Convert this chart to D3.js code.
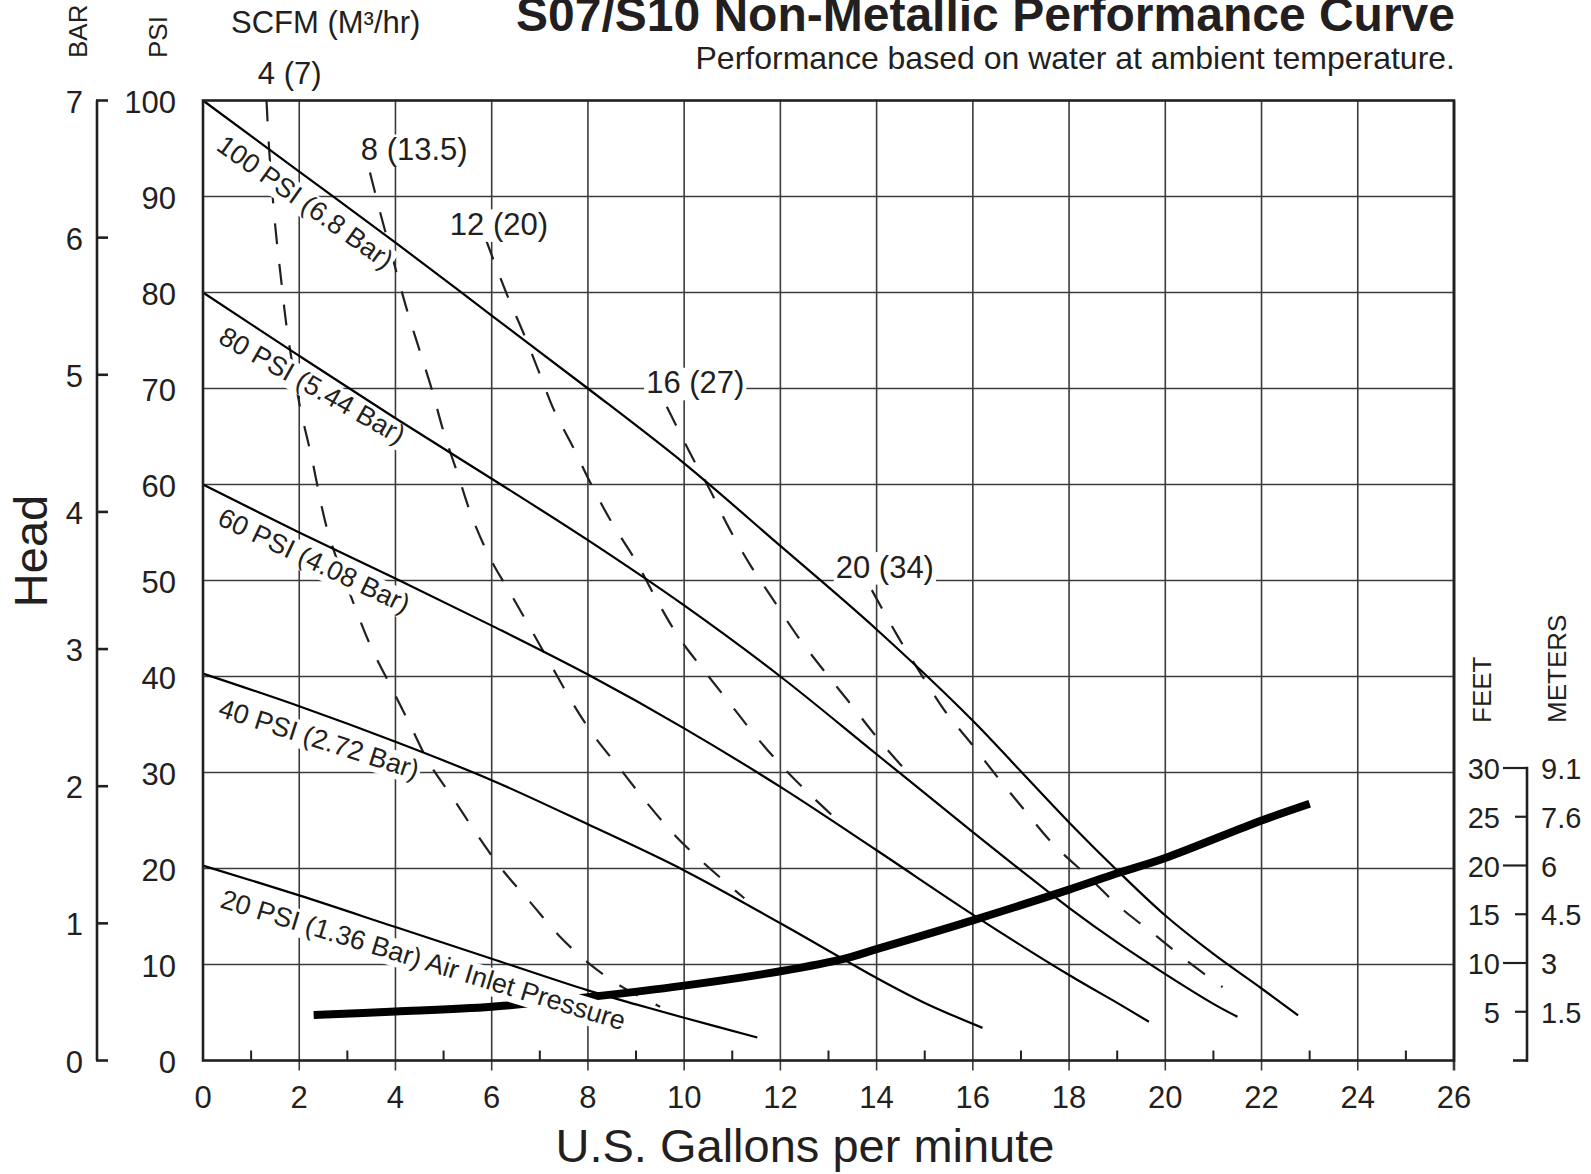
<!DOCTYPE html>
<html><head><meta charset="utf-8">
<script src="https://cdn.jsdelivr.net/npm/d3@7"></script>
<style>
body{margin:0;background:#fff}
svg{display:block}
text{font-family:"Liberation Sans",Arial,Helvetica,sans-serif;fill:#231f20}
</style>
</head><body>
<svg id="chart" width="1591" height="1174"></svg>
<script>
// ---------- data ----------
const gpmTicks = d3.range(0, 27, 2);
const gpmMinor = d3.range(1, 26, 2);
const psiTicks = d3.range(0, 101, 10);
const barTicks = d3.range(0, 8);
const feetTicks = [5, 10, 15, 20, 25, 30];
const meterLabels = ["1.5", "3", "4.5", "6", "7.6", "9.1"];

// air inlet pressure curves [gpm, psi]
const air100 = [[0,100],[2,92.6],[4,85.2],[6,77.6],[8,70],[10,62.2],[12,53.6],[14,44.9],[16,35.4],[17,30.1],[18,24.8],[19,19.8],[20,15.1],[21,11.1],[22,7.5],[22.76,4.7]];
const air80  = [[0,80],[2,73.4],[4,66.9],[6,60.6],[8,54.2],[10,47.4],[12,40],[14,31.9],[16,23.8],[17,19.8],[18,15.9],[19,12.3],[20,9],[21,5.9],[21.5,4.55]];
const air60  = [[0,60],[2,55.0],[4,50.2],[6,45.3],[8,40.2],[10,34.6],[12,28.5],[14,21.9],[16,15.2],[18,8.9],[19,6],[19.66,4.03]];
const air40  = [[0,40.3],[2,36.9],[4,33.2],[6,29.2],[8,24.6],[10,19.8],[12,14.3],[14,8.6],[15,6],[16.2,3.4]];
const air20  = [[0,20.3],[2,17.2],[4,13.9],[6,10.6],[8,7.3],[9,5.85],[10,4.45],[11.52,2.4]];
const airLabels = ["100 PSI (6.8 Bar)", "80 PSI (5.44 Bar)", "60 PSI (4.08 Bar)", "40 PSI (2.72 Bar)", "20 PSI (1.36 Bar) Air Inlet Pressure"];

// air consumption curves (SCFM) [gpm, psi]
const scfm4  = [[1.32,100],[1.38,94.5],[1.5,87],[1.62,81.5],[1.75,76],[2.0,68.5],[2.25,63],[2.6,55],[3.1,48],[3.5,43],[3.9,39],[4.3,35],[4.7,31],[5.2,27.3],[5.7,23.5],[6.2,20],[6.8,16.5],[7.4,13],[8.0,10.2],[8.7,7.7],[9.5,5.6]];
const scfm8  = [[3.47,92.5],[3.7,88],[4.0,82.5],[4.25,78],[4.5,74],[4.75,70],[5.0,65.5],[5.3,61],[5.6,56.5],[6.0,52],[6.35,49],[6.75,45.5],[7.2,41.5],[7.65,37.5],[8.1,34],[8.65,30.5],[9.2,27],[9.8,23.5],[10.4,20.6],[11.25,16.9]];
const scfm12 = [[5.88,85.5],[6.3,80],[6.7,75.3],[7.0,71.5],[7.3,67.7],[7.7,63.8],[8.1,59.7],[8.5,56],[9.0,52],[9.45,47.8],[9.9,44],[10.4,40.7],[10.95,37.2],[11.5,33.7],[12.1,30.3],[12.7,27.3],[13.3,24.5]];
const scfm16 = [[9.64,68.1],[10.12,63.3],[10.54,59.4],[10.95,55.3],[11.4,51.4],[11.85,48.0],[12.37,44.1],[12.89,40.7],[13.45,37.2],[14.0,33.7],[14.59,30.3],[14.8,29.2]];
const scfm20 = [[13.9,49],[14.45,44.1],[14.93,40.2],[15.45,36.2],[15.97,33.0],[16.5,29.6],[17.07,26.1],[17.66,22.6],[18.43,19.0],[19.05,16.0],[19.78,13.1],[20.47,10.3],[21.19,7.65]];
const scfmLabels = ["4 (7)", "8 (13.5)", "12 (20)", "16 (27)", "20 (34)"];

// system (head) curve
const systemCurve = [[2.3,4.75],[4,5.1],[6,5.6],[8,6.6],[10,7.8],[12,9.3],[13.4,10.7],[14,11.6],[16,14.6],[18,17.8],[19,19.5],[20,21.1],[22,25],[23,26.75]];

// ---------- layout (annotation anchors in chart units, angle in degrees) ----------
const airLabelPos = [[0.25,94.95,35.5],[0.29,74.84,29.5],[0.27,55.88,25.5],[0.29,35.88,17.7],[0.33,15.99,17]];
const scfmLabelPos = [[1.14,101.7],[3.28,93.8],[5.13,86.0],[9.21,69.5],[13.15,50.3]];

// ---------- drawing ----------
const svg = d3.select("#chart");
const ink = "#231f20";
const x = d3.scaleLinear().domain([0, 26]).range([203, 1454]);
const y = d3.scaleLinear().domain([0, 100]).range([1060.5, 100.5]);
const yBar = d3.scaleLinear().domain([0, 7]).range([1060.5, 100.5]);
const yFeet = d3.scaleLinear().domain([0, 30]).range([1060.5, 768]);

const gGrid = svg.append("g");
const gDash = svg.append("g");
const gThick = svg.append("g");
const gBg = svg.append("g");
const gSolid = svg.append("g");
const gText = svg.append("g");
const gAxes = svg.append("g");

// grid
gGrid.selectAll(".vg").data(gpmTicks.filter(d => d > 0)).join("line")
  .attr("x1", d => x(d)).attr("x2", d => x(d))
  .attr("y1", y(100)).attr("y2", y(0) + 10)
  .attr("stroke", "#3c3c3c").attr("stroke-width", d => d === 26 ? 2.6 : 1.6);
gGrid.selectAll(".hg").data(psiTicks.filter(d => d > 0 && d < 100)).join("line")
  .attr("x1", x(0)).attr("x2", x(26))
  .attr("y1", d => y(d)).attr("y2", d => y(d))
  .attr("stroke", "#3c3c3c").attr("stroke-width", 1.6);
gGrid.selectAll(".mt").data(gpmMinor).join("line")
  .attr("x1", d => x(d)).attr("x2", d => x(d))
  .attr("y1", y(0) - 10).attr("y2", y(0))
  .attr("stroke", ink).attr("stroke-width", 2);

const line = d3.line().x(d => x(d[0])).y(d => y(d[1])).curve(d3.curveCatmullRom.alpha(0.5));

// SCFM dashed curves
gDash.selectAll("path").data([scfm4, scfm8, scfm12, scfm16, scfm20]).join("path")
  .attr("d", line).attr("fill", "none").attr("stroke", ink)
  .attr("stroke-width", 2.2).attr("stroke-dasharray", "21,20");

// system curve
gThick.append("path").datum(systemCurve).attr("d", line)
  .attr("fill", "none").attr("stroke", "#000").attr("stroke-width", 8);

// air pressure solid curves
gSolid.selectAll("path").data([air100, air80, air60, air40, air20]).join("path")
  .attr("d", line).attr("fill", "none").attr("stroke", "#000")
  .attr("stroke-width", 2.2);

// labels with white background boxes
function addLabel(transform, str, fs) {
  const t = gText.append("text").attr("transform", transform).attr("font-size", fs).text(str);
  const b = t.node().getBBox();
  gBg.append("rect").attr("transform", transform)
    .attr("x", b.x - 2).attr("y", b.y + fs * 0.08).attr("width", b.width + 4).attr("height", b.height - fs * 0.08)
    .attr("fill", "#fff");
}
airLabels.forEach((s, i) => {
  const p = airLabelPos[i];
  addLabel(`translate(${x(p[0])},${y(p[1])}) rotate(${p[2]})`, s, 27);
});
scfmLabels.forEach((s, i) => {
  const p = scfmLabelPos[i];
  addLabel(`translate(${x(p[0])},${y(p[1])})`, s, 31);
});

// frame
gAxes.append("rect").attr("x", x(0)).attr("y", y(100))
  .attr("width", x(26) - x(0)).attr("height", y(0) - y(100))
  .attr("fill", "none").attr("stroke", ink).attr("stroke-width", 2.6);

// x tick labels
gAxes.append("g").selectAll("text").data(gpmTicks).join("text")
  .attr("x", d => x(d)).attr("y", 1108).attr("text-anchor", "middle")
  .attr("font-size", 31).text(d => d);

// psi tick labels
gAxes.append("g").selectAll("text").data(psiTicks).join("text")
  .attr("x", 176).attr("y", d => y(d) + 12).attr("text-anchor", "end")
  .attr("font-size", 31).text(d => d);

// bar axis
const barG = gAxes.append("g");
barG.append("line").attr("x1", 97).attr("x2", 97).attr("y1", yBar(7)).attr("y2", yBar(0))
  .attr("stroke", ink).attr("stroke-width", 2.6);
barG.selectAll(".bt").data(barTicks).join("line")
  .attr("x1", 96).attr("x2", 108).attr("y1", d => yBar(d)).attr("y2", d => yBar(d))
  .attr("stroke", ink).attr("stroke-width", 2.6);
barG.selectAll("text").data(barTicks).join("text")
  .attr("x", 83).attr("y", d => yBar(d) + 12).attr("text-anchor", "end")
  .attr("font-size", 31).text(d => d);

// feet / meters axis
const fG = gAxes.append("g");
fG.append("line").attr("x1", 1527).attr("x2", 1527).attr("y1", yFeet(30) - 1.3).attr("y2", yFeet(0) + 1.3)
  .attr("stroke", ink).attr("stroke-width", 2.6);
fG.selectAll(".ft").data(feetTicks).join("line")
  .attr("x1", d => d % 10 === 0 ? 1503 : 1515).attr("x2", 1527)
  .attr("y1", d => yFeet(d)).attr("y2", d => yFeet(d))
  .attr("stroke", ink).attr("stroke-width", 2.2);
fG.append("line").attr("x1", 1513).attr("x2", 1528).attr("y1", yFeet(0)).attr("y2", yFeet(0))
  .attr("stroke", ink).attr("stroke-width", 2.6);
fG.selectAll(".fl").data(feetTicks).join("text")
  .attr("x", 1500).attr("y", d => yFeet(d) + 11).attr("text-anchor", "end")
  .attr("font-size", 29).text(d => d);
fG.selectAll(".ml").data(meterLabels).join("text")
  .attr("x", 1541).attr("y", (d, i) => yFeet(feetTicks[i]) + 11)
  .attr("font-size", 29).text(d => d);

// titles and axis names
gAxes.append("text").attr("x", 1455).attr("y", 30.5).attr("text-anchor", "end")
  .attr("font-size", 48).attr("font-weight", "bold")
  .text("S07/S10 Non-Metallic Performance Curve");
gAxes.append("text").attr("x", 1455).attr("y", 69).attr("text-anchor", "end")
  .attr("font-size", 32).text("Performance based on water at ambient temperature.");
gAxes.append("text").attr("x", 231).attr("y", 33).attr("font-size", 31).text("SCFM (M³/hr)");
gAxes.append("text").attr("transform", "translate(87,58) rotate(-90)").attr("font-size", 26).text("BAR");
gAxes.append("text").attr("transform", "translate(167,58) rotate(-90)").attr("font-size", 26).text("PSI");
gAxes.append("text").attr("transform", "translate(47,551) rotate(-90)").attr("text-anchor", "middle")
  .attr("font-size", 47).text("Head");
gAxes.append("text").attr("transform", "translate(1491,723) rotate(-90)").attr("font-size", 26).text("FEET");
gAxes.append("text").attr("transform", "translate(1566,723) rotate(-90)").attr("font-size", 26).text("METERS");
gAxes.append("text").attr("x", 805).attr("y", 1162).attr("text-anchor", "middle")
  .attr("font-size", 47).text("U.S. Gallons per minute");
</script>
</body></html>
